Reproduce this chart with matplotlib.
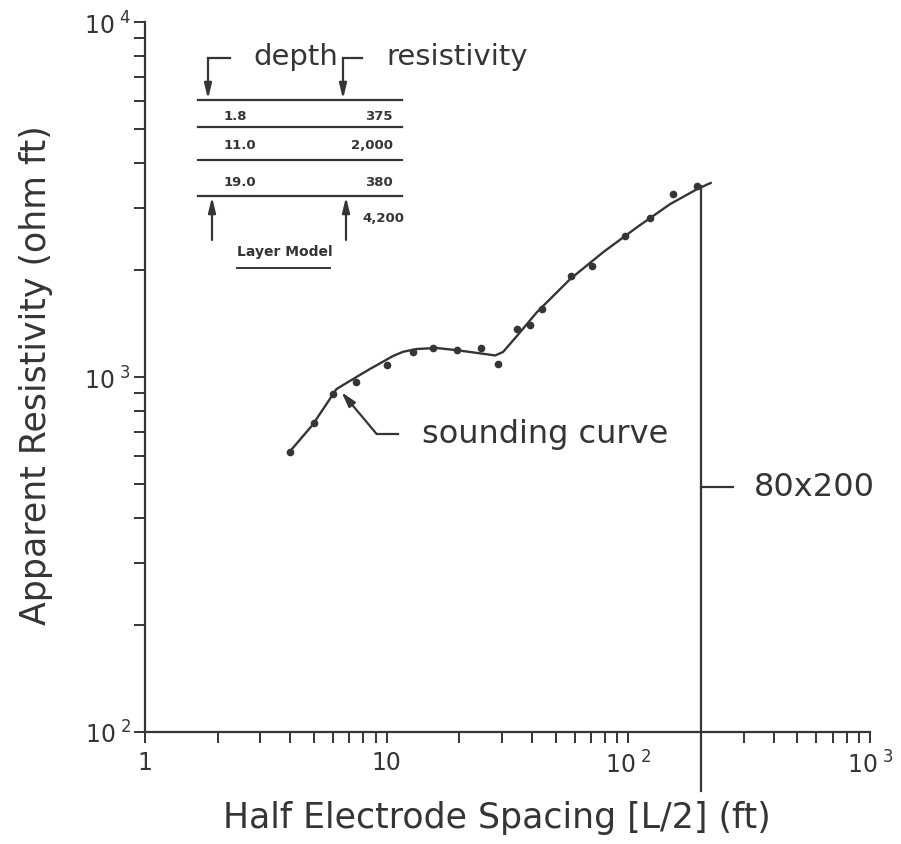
import matplotlib
matplotlib.use('Agg')
import matplotlib.pyplot as plt
from matplotlib.ticker import FixedLocator, FixedFormatter, LogLocator, NullFormatter
from matplotlib.lines import Line2D

# measured points: half electrode spacing (ft) vs apparent resistivity (ohm ft)
spacing = [4.0, 5.0, 6.0, 7.5, 10, 12.8, 15.5, 19.5, 24.5, 29, 34.5, 39, 44, 58, 71, 97, 123, 153, 192]
rho = [615, 741, 895, 968, 1080, 1175, 1207, 1191, 1207, 1088, 1366, 1401, 1554, 1925, 2054, 2495, 2805, 3280, 3450]

# fitted sounding curve
curve_x = [3.96, 4.93, 6.2, 7.5, 8.5, 9.6, 10.6, 11.7, 13.3, 16.1, 19.5, 25, 28.1, 30.3, 34.6, 41.9, 57.5, 78.8, 109, 149, 193, 219]
curve_y = [615, 732, 925, 1000, 1052, 1102, 1145, 1178, 1199, 1207, 1190, 1163, 1150, 1176, 1305, 1524, 1888, 2249, 2646, 3070, 3386, 3519]

# layer model
depths = ['1.8', '11.0', '19.0']
resistivities = ['375', '2,000', '380', '4,200']

xtick_vals = [1, 10, 100, 1000]
xtick_labels = ['1', '10', r'10$^{\ 2}$', r'10$^{\ 3}$']
ytick_vals = [100, 1000, 10000]
ytick_labels = [r'10$^{\ 2}$', r'10$^{\ 3}$', r'10$^{\ 4}$']

array_x = 200      # 80x200 array
array_label_y = 490

INK = '#353535'
W, H = 901, 845
plt.rcParams['mathtext.default'] = 'regular'
plt.rcParams['font.family'] = 'DejaVu Sans'


def fp(x, y):
    """像素坐标 -> figure fraction"""
    return (x / W, 1 - y / H)


fig = plt.figure(figsize=(W / 100, H / 100), dpi=100)
ax = fig.add_axes([145 / W, 1 - 733 / H, (870 - 145) / W, (733 - 23) / H])
ax.set_xscale('log')
ax.set_yscale('log')
ax.set_xlim(1, 1000)
ax.set_ylim(100, 10000)

for s in ['top', 'right']:
    ax.spines[s].set_visible(False)
for s in ['left', 'bottom']:
    ax.spines[s].set_color(INK)
    ax.spines[s].set_linewidth(1.6)

ax.xaxis.set_major_locator(FixedLocator(xtick_vals))
ax.xaxis.set_major_formatter(FixedFormatter(xtick_labels))
ax.xaxis.set_minor_locator(LogLocator(base=10, subs=range(2, 10)))
ax.xaxis.set_minor_formatter(NullFormatter())
ax.yaxis.set_major_locator(FixedLocator(ytick_vals))
ax.yaxis.set_major_formatter(FixedFormatter(ytick_labels))
ax.yaxis.set_minor_locator(LogLocator(base=10, subs=range(2, 10)))
ax.yaxis.set_minor_formatter(NullFormatter())
ax.tick_params(which='both', direction='out', length=8, width=1.4, color=INK,
               labelcolor=INK, labelsize=17)
ax.tick_params(axis='x', which='both', pad=5)
ax.tick_params(axis='y', which='both', pad=2)

# curve and data
ax.plot(curve_x, curve_y, color=INK, lw=1.7)
ax.plot(spacing, rho, 'o', color=INK, ms=4.5)

# 80x200 array line
ax.plot([array_x, array_x], [rho[-1], 68], color=INK, lw=1.6, clip_on=False)
ax.plot([array_x, 270], [array_label_y, array_label_y], color=INK, lw=1.6)
ax.text(330, array_label_y, '80x200', fontsize=23, color=INK, va='center', ha='left')

# sounding curve label with arrow
ax.plot([11.1, 9.09], [691, 691], color=INK, lw=1.6)
ax.annotate('', xy=(6.5, 907), xytext=(9.09, 691),
            arrowprops=dict(arrowstyle='-|>,head_length=0.9,head_width=0.25',
                            color=INK, lw=1.6, shrinkA=0, shrinkB=0))
ax.text(14.0, 691, 'sounding curve', fontsize=23, color=INK, va='center', ha='left')

# axis labels
fig.text(*fp(497, 818), 'Half Electrode Spacing [L/2] (ft)', fontsize=25, color=INK,
         ha='center', va='center')
fig.text(*fp(36, 375), 'Apparent Resistivity (ohm ft)', fontsize=25, color=INK,
         ha='center', va='center', rotation=90)

# layer model inset
def fline(pts, lw=1.6):
    xs = [p[0] / W for p in pts]
    ys = [1 - p[1] / H for p in pts]
    fig.add_artist(Line2D(xs, ys, color=INK, lw=lw))


def farrow(tail, tip):
    fig.add_artist(plt.Annotation('', xy=fp(*tip), xytext=fp(*tail),
                                  xycoords='figure fraction', textcoords='figure fraction',
                                  arrowprops=dict(arrowstyle='-|>,head_length=0.9,head_width=0.22',
                                                  color=INK, lw=1.6, shrinkA=0, shrinkB=0)))


fline([(230, 59), (208, 59)])
farrow((208, 59), (208, 100))
fline([(362, 59), (343, 59)])
farrow((343, 59), (343, 100))
fig.text(*fp(253, 57), 'depth', fontsize=21, color=INK, ha='left', va='center')
fig.text(*fp(386, 57), 'resistivity', fontsize=21, color=INK, ha='left', va='center')

for yy in [101, 128, 161, 197]:
    fline([(198, yy), (402, yy)])

rows_y = [116, 146, 183]
for d, r, yy in zip(depths, resistivities[:3], rows_y):
    fig.text(*fp(224, yy), d, fontsize=9.5, fontweight='bold', color=INK, ha='left', va='center')
    fig.text(*fp(393, yy), r, fontsize=9.5, fontweight='bold', color=INK, ha='right', va='center')
fig.text(*fp(362, 218), resistivities[3], fontsize=9.5, fontweight='bold', color=INK,
         ha='left', va='center')

farrow((212, 241), (212, 198))
farrow((346, 241), (346, 198))
fig.text(*fp(285, 252), 'Layer Model', fontsize=10, fontweight='bold', color=INK,
         ha='center', va='center')
fline([(237, 269), (330, 269)], lw=1.4)

fig.savefig('out.png', dpi=100, facecolor='white')
